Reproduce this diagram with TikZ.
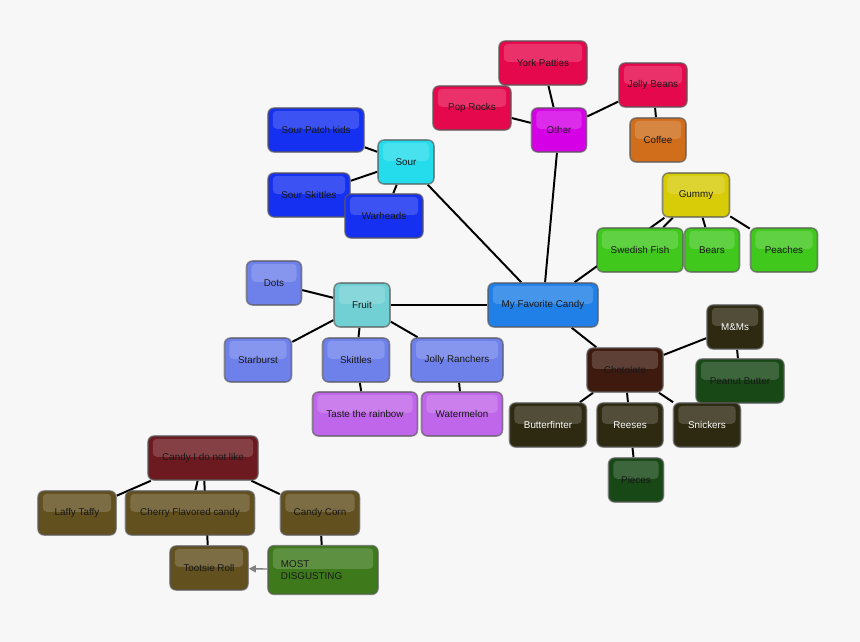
\documentclass[tikz,border=0pt]{standalone}
\usepackage{fontspec}
\setmainfont{Liberation Sans}
\usetikzlibrary{arrows.meta,backgrounds}

\definecolor{bggray}{HTML}{F7F7F7}
\definecolor{rosered}{HTML}{E6084C}
\definecolor{othervio}{HTML}{D600E6}
\definecolor{coffeeor}{HTML}{D06E1C}
\definecolor{sourblue}{HTML}{1530F0}
\definecolor{sourcyan}{HTML}{24DCEB}
\definecolor{gummyyel}{HTML}{D8CC08}
\definecolor{gummygrn}{HTML}{40C81C}
\definecolor{favblue}{HTML}{2080E8}
\definecolor{fruitteal}{HTML}{70D0D4}
\definecolor{fruitblue}{HTML}{6E80EA}
\definecolor{fruitpurp}{HTML}{C066EA}
\definecolor{chocbrown}{HTML}{3E1A0E}
\definecolor{chocolive}{HTML}{2E2A12}
\definecolor{chocgreen}{HTML}{174816}
\definecolor{dislred}{HTML}{6C1A20}
\definecolor{dislbrown}{HTML}{62501F}
\definecolor{dislgreen}{HTML}{3E7A1C}

\begin{document}
\begin{tikzpicture}[x=0.025cm, y=-0.025cm,
    candy/.style={draw=gray!70!black, draw opacity=0.65, line width=1.1pt,
      rounded corners=0.15cm, minimum height=1.1cm, align=center, inner sep=1pt,
      font=\fontsize{7}{8}\selectfont, text=black!90,
      path picture={\fill[white, opacity=0.17, rounded corners=0.1cm]
        ([xshift=0.12cm, yshift=-0.07cm]path picture bounding box.north west) rectangle
        ([xshift=-0.12cm, yshift=0.03cm]path picture bounding box.east);}},
    boxw/.style={minimum width=#1*0.025cm},
    link/.style={line width=1.4pt, black}]
  \useasboundingbox (0,0) rectangle (860,642);

  % 1. centre
  \node[candy, fill=favblue, boxw=110] (fav) at (543,305) {My Favorite Candy};

  % 2. other
  \node[candy, fill=othervio, boxw=55] (other) at (559,130) {Other};
  \node[candy, fill=rosered, boxw=88] (york) at (543,63) {York Patties};
  \node[candy, fill=rosered, boxw=78] (pop) at (472,108) {Pop Rocks};
  \node[candy, fill=rosered, boxw=68] (jelly) at (653,85) {Jelly Beans};
  \node[candy, fill=coffeeor, boxw=56] (coffee) at (658,140) {Coffee};

  % 3. sour
  \node[candy, fill=sourcyan, boxw=56] (sour) at (406,162) {Sour};
  \node[candy, fill=sourblue, boxw=96] (patch) at (316,130) {Sour Patch kids};
  \node[candy, fill=sourblue, boxw=82] (sskit) at (309,195) {Sour Skittles};
  \node[candy, fill=sourblue, boxw=78] (warh) at (384,216) {Warheads};

  % 4. gummy
  \node[candy, fill=gummyyel, boxw=67] (gummy) at (696,195) {Gummy};
  \node[candy, fill=gummygrn, boxw=86] (fish) at (640,250) {Swedish Fish};
  \node[candy, fill=gummygrn, boxw=55] (bears) at (712,250) {Bears};
  \node[candy, fill=gummygrn, boxw=67] (peach) at (784,250) {Peaches};

  % 5. fruit
  \node[candy, fill=fruitteal, boxw=56] (fruit) at (362,305) {Fruit};
  \node[candy, fill=fruitblue, boxw=55] (dots) at (274,283) {Dots};
  \node[candy, fill=fruitblue, boxw=67] (starb) at (258,360) {Starburst};
  \node[candy, fill=fruitblue, boxw=67] (skit) at (356,360) {Skittles};
  \node[candy, fill=fruitblue, boxw=92] (jolly) at (457,360) {Jolly Ranchers};
  \node[candy, fill=fruitpurp, boxw=105] (rainb) at (365,414) {Taste the rainbow};
  \node[candy, fill=fruitpurp, boxw=81] (water) at (462,414) {Watermelon};

  % 6. chocolate
  \node[candy, fill=chocbrown, boxw=76] (choc) at (625,370) {Chotolate};
  \node[candy, fill=chocolive, boxw=56, text=white] (mms) at (735,327) {M\&Ms};
  \node[candy, fill=chocgreen, boxw=88] (peanut) at (740,381) {Peanut Butter};
  \node[candy, fill=chocolive, boxw=77, text=white] (butter) at (548,425) {Butterfinter};
  \node[candy, fill=chocolive, boxw=66, text=white] (reese) at (630,425) {Reeses};
  \node[candy, fill=chocolive, boxw=67, text=white] (snick) at (707,425) {Snickers};
  \node[candy, fill=chocgreen, boxw=55] (piece) at (636,480) {Pieces};

  % 7. candy not liked
  \node[candy, fill=dislred, boxw=110] (dislike) at (203,458) {Candy I do not like};
  \node[candy, fill=dislbrown, boxw=78] (laffy) at (77,513) {Laffy Taffy};
  \node[candy, fill=dislbrown, boxw=129] (cherry) at (190,513) {Cherry Flavored candy};
  \node[candy, fill=dislbrown, boxw=79] (corn) at (320,513) {Candy Corn};
  \node[candy, fill=dislbrown, boxw=78] (tootsie) at (209,568) {Tootsie Roll};
  \node[candy, fill=dislgreen, boxw=110, minimum height=1.22cm, text width=2.1cm, align=left] (gross) at (323,570) {MOST\\DISGUSTING};

  % 8. links
  \begin{scope}[on background layer]
    \fill[bggray] (0,0) rectangle (860,642);
    \draw[link] (fav) -- (other);
    \draw[link] (other) -- (york);
    \draw[link] (other) -- (pop);
    \draw[link] (other) -- (jelly);
    \draw[link] (jelly) -- (coffee);
    \draw[link] (fav) -- (sour);
    \draw[link] (sour) -- (patch);
    \draw[link] (sour) -- (sskit);
    \draw[link] (sour) -- (warh);
    \draw[link] (fav) -- (gummy);
    \draw[link] (gummy) -- (fish);
    \draw[link] (gummy) -- (bears);
    \draw[link] (gummy) -- (peach);
    \draw[link] (fav) -- (fruit);
    \draw[link] (fruit) -- (dots);
    \draw[link] (fruit) -- (starb);
    \draw[link] (fruit) -- (skit);
    \draw[link] (fruit) -- (jolly);
    \draw[link] (skit) -- (rainb);
    \draw[link] (jolly) -- (water);
    \draw[link] (fav) -- (choc);
    \draw[link] (choc) -- (mms);
    \draw[link] (mms) -- (peanut);
    \draw[link] (choc) -- (butter);
    \draw[link] (choc) -- (reese);
    \draw[link] (choc) -- (snick);
    \draw[link] (reese) -- (piece);
    \draw[link] (dislike) -- (laffy);
    \draw[link] (dislike) -- (cherry);
    \draw[link] (dislike) -- (tootsie);
    \draw[link] (dislike) -- (corn);
    \draw[link] (corn) -- (gross);
  \end{scope}
  \draw[gray, line width=1pt, -{Triangle[length=5pt, width=5pt]}] (gross) -- (tootsie);
\end{tikzpicture}
\end{document}
